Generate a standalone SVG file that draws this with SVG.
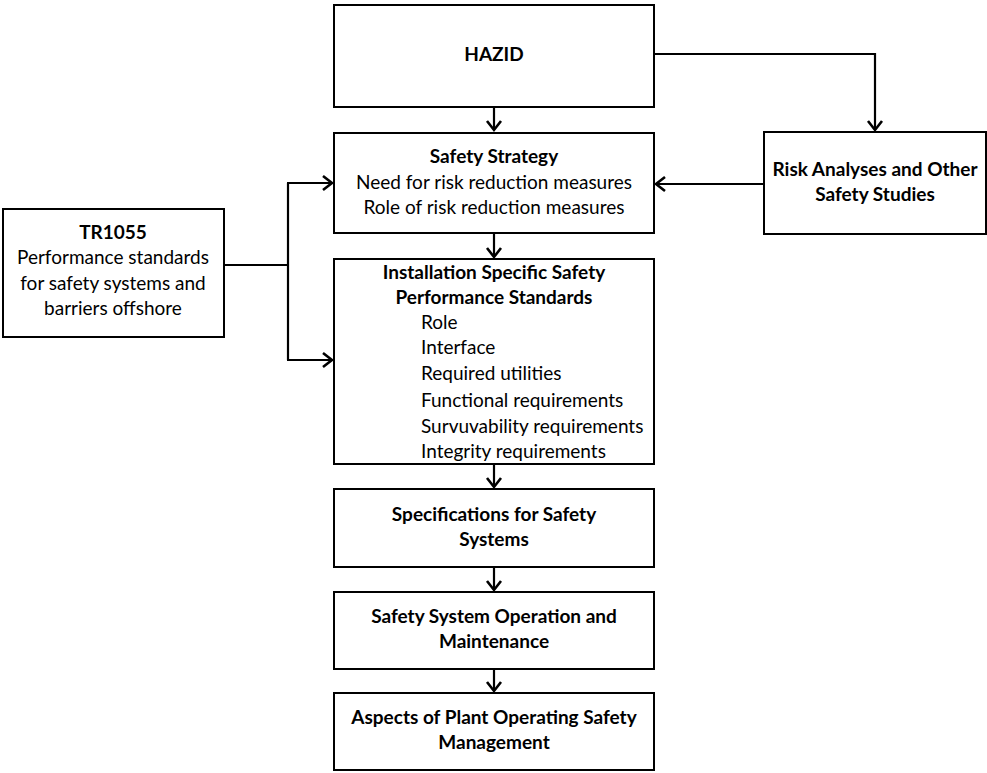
<svg xmlns="http://www.w3.org/2000/svg" width="987" height="773" viewBox="0 0 987 773">
  <defs>
    <marker id="arrow" markerWidth="16" markerHeight="18" refX="12" refY="9" orient="auto" markerUnits="userSpaceOnUse">
      <path d="M3,2 L12,9 L3,16" fill="none" stroke="#000" stroke-width="2.6"/>
    </marker>
    <style>
      .box { fill: #fff; stroke: #000; stroke-width: 2; }
      .link { fill: none; stroke: #000; stroke-width: 2.2; }
      .arr { marker-end: url(#arrow); }
      text { font-family: Lato, "Open Sans", sans-serif; font-size: 19px; fill: #000; }
      .b { font-weight: bold; }
      .c { text-anchor: middle; }
    </style>
  </defs>
  <rect width="987" height="773" fill="#fff"/>

  <g id="connectors">
    <!-- HAZID to risk analyses -->
    <path class="link arr" d="M654,54 H875 V130"/>
    <!-- risk analyses back to safety strategy -->
    <path class="link arr" d="M764,184 H656"/>
    <!-- TR1055 branches -->
    <path class="link" d="M224,265 H288"/>
    <path class="link" d="M288,183 V360"/>
    <path class="link arr" d="M287,183 H332"/>
    <path class="link arr" d="M287,360 H332"/>
    <!-- main vertical chain -->
    <path class="link arr" d="M494,107 V130"/>
    <path class="link arr" d="M494,233 V257"/>
    <path class="link arr" d="M494,464 V487"/>
    <path class="link arr" d="M494,567 V590"/>
    <path class="link arr" d="M494,669 V691"/>
  </g>

  <g id="hazid">
    <rect class="box" x="334" y="5" width="320" height="102"/>
    <text class="b c" x="494" y="61">HAZID</text>
  </g>

  <g id="safety-strategy">
    <rect class="box" x="334" y="133" width="320" height="100"/>
    <text class="b c" x="494" y="163">Safety Strategy</text>
    <text class="c" x="494" y="189">Need for risk reduction measures</text>
    <text class="c" x="494" y="214">Role of risk reduction measures</text>
  </g>

  <g id="tr1055">
    <rect class="box" x="3" y="209" width="221" height="128"/>
    <text class="b c" x="113" y="239">TR1055</text>
    <text class="c" x="113" y="264">Performance standards</text>
    <text class="c" x="113" y="290">for safety systems and</text>
    <text class="c" x="113" y="315">barriers offshore</text>
  </g>

  <g id="risk-analyses">
    <rect class="box" x="764" y="132" width="222" height="102"/>
    <text class="b c" x="875" y="176">Risk Analyses and Other</text>
    <text class="b c" x="875" y="201">Safety Studies</text>
  </g>

  <g id="performance-standards">
    <rect class="box" x="334" y="259" width="320" height="205"/>
    <text class="b c" x="494" y="279">Installation Specific Safety</text>
    <text class="b c" x="494" y="304">Performance Standards</text>
    <text x="421" y="329">Role</text>
    <text x="421" y="354">Interface</text>
    <text x="421" y="380">Required utilities</text>
    <text x="421" y="407">Functional requirements</text>
    <text x="421" y="433">Survuvability requirements</text>
    <text x="421" y="458">Integrity requirements</text>
  </g>

  <g id="specifications">
    <rect class="box" x="334" y="489" width="320" height="78"/>
    <text class="b c" x="494" y="521">Specifications for Safety</text>
    <text class="b c" x="494" y="546">Systems</text>
  </g>

  <g id="operation-maintenance">
    <rect class="box" x="334" y="592" width="320" height="77"/>
    <text class="b c" x="494" y="623">Safety System Operation and</text>
    <text class="b c" x="494" y="648">Maintenance</text>
  </g>

  <g id="operating-safety-management">
    <rect class="box" x="334" y="693" width="320" height="77"/>
    <text class="b c" x="494" y="724">Aspects of Plant Operating Safety</text>
    <text class="b c" x="494" y="749">Management</text>
  </g>
</svg>
